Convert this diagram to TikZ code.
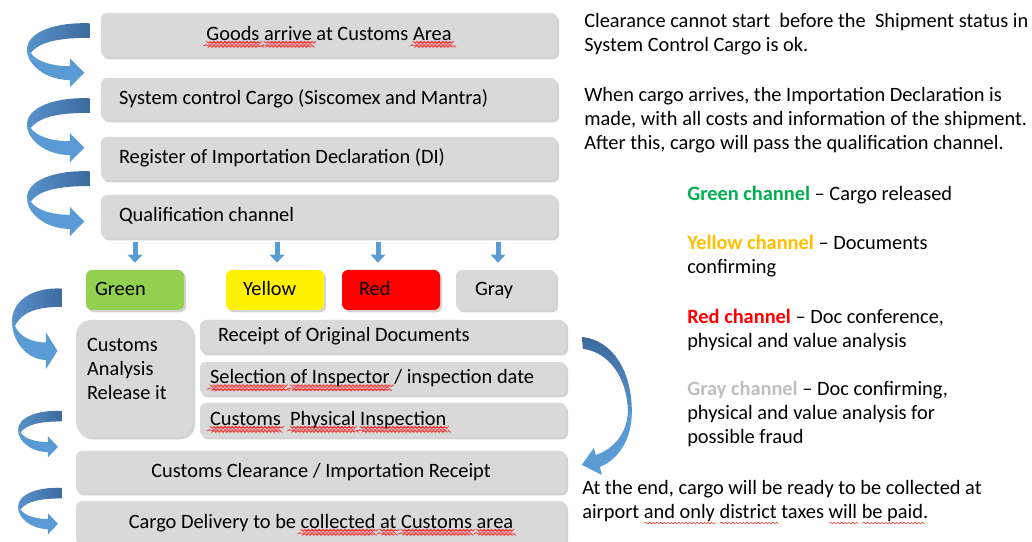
\documentclass[tikz,border=0pt]{standalone}
\usepackage{fontspec}
\setmainfont{Carlito}
\usetikzlibrary{arrows.meta,shadows}

\definecolor{boxgray}{RGB}{217,217,217}
\definecolor{chgreenbox}{RGB}{146,208,80}
\definecolor{chgreen}{RGB}{0,176,80}
\definecolor{chyellow}{RGB}{255,192,0}
\definecolor{chgray}{RGB}{191,191,191}
\definecolor{arrowdark}{RGB}{60,106,158}
\definecolor{arrowmid}{RGB}{88,146,203}
\definecolor{arrowlight}{RGB}{91,155,213}
\definecolor{spellred}{RGB}{235,60,60}

% red zigzag under a word
\makeatletter
\newsavebox\wavybox
\newdimen\wavywd
\newdimen\wavyx
\newcommand\wavy[1]{%
	\sbox\wavybox{#1}\wavywd=\wd\wavybox
	\rlap{\pgfpicture\pgfsetbaseline{0pt}%
		\pgfsetlinewidth{0.4pt}\pgfsetstrokecolor{spellred}%
		\wavyx=0pt \pgfpathmoveto{\pgfqpoint{0pt}{-3pt}}%
		\@tempswatrue
		\loop\advance\wavyx by 1.3pt
			\if@tempswa\pgfpathlineto{\pgfqpoint{\wavyx}{-2.4pt}}\@tempswafalse
			\else\pgfpathlineto{\pgfqpoint{\wavyx}{-3.6pt}}\@tempswatrue\fi
		\ifdim\wavyx<\wavywd\repeat
		\pgfusepath{stroke}\endpgfpicture}%
	\usebox\wavybox}
\makeatother

% twisted ribbon arrow: left x, top y, width, height (in px)
\newcommand\turnarrow[4]{%
	\begin{scope}[x=0.025cm,y=-0.025cm,shift={(#1,#2)},xscale=#3,yscale=#4]
		\shade[left color=arrowmid,right color=arrowdark] (1,0.02) .. controls (0.45,0) and (0,0.15) .. (0,0.42) -- (0.06,0.47) .. controls (0.2,0.3) and (0.5,0.24) .. (1,0.24) -- cycle;
		\fill[arrowlight] (0,0.42) .. controls (0,0.65) and (0.3,0.88) .. (0.68,0.88) -- (0.68,0.99) -- (0.91,0.77) -- (0.68,0.55) -- (0.68,0.67) .. controls (0.4,0.67) and (0.15,0.6) .. (0.06,0.47) -- cycle;
	\end{scope}}

\begin{document}
\begin{tikzpicture}[font=\fontsize{14.5}{17.1}\selectfont,
		boxfill/.style={fill=boxgray, rounded corners=0.15cm, drop shadow={shadow xshift=0.05cm, shadow yshift=-0.06cm, opacity=0.35}},
		stepbox/.style={boxfill, inner ysep=0pt, text height=10.4pt, text depth=3.2pt},
		padded/.style 2 args={inner xsep=#1, text width=#2, execute at begin node={\spaceskip=0pt\xspaceskip=0pt}},
		chanarrow/.style={arrowlight, line width=0.125cm, -{Triangle[width=0.36cm,length=0.2cm]}, shorten <=0.1cm, shorten >=0.175cm},
		sidetext/.style={anchor=north west, align=left, inner sep=0pt}]
	\useasboundingbox (0,0) rectangle (25.8,-13.55);

	\node (goods) at (8.225,-0.875) [stepbox, minimum width=11.4cm, minimum height=1.1cm] {\wavy{Goods} \wavy{arrive} at Customs \wavy{Area}};
	\node (syscargo) at (8.225,-2.475) [stepbox, padded={0.45cm}{10.5cm}, minimum height=1.05cm] {System control Cargo (Siscomex and Mantra)};
	\node (register) at (8.225,-3.9625) [stepbox, padded={0.45cm}{10.5cm}, minimum height=1.075cm] {Register of Importation Declaration (DI)};
	\node (qual) at (8.225,-5.4125) [stepbox, padded={0.45cm}{10.5cm}, minimum height=1.075cm] {Qualification channel};

	\node (green) at (3.375,-7.25) [stepbox, fill=chgreenbox, padded={0.225cm}{2.0cm}, minimum height=1cm] {Green};
	\node (yellow) at (6.875,-7.25) [stepbox, fill=yellow, padded={0.425cm}{1.6cm}, minimum height=1cm] {Yellow};
	\node (red) at (9.775,-7.25) [stepbox, fill=red, padded={0.425cm}{1.6cm}, minimum height=1cm] {Red};
	\node (gray) at (12.65,-7.25) [stepbox, padded={0.475cm}{1.55cm}, minimum height=1cm] {Gray};

	\draw[chanarrow] (qual.south -| green.north) -- (green.north);
	\draw[chanarrow] ([xshift=0.05cm]qual.south -| yellow.north) -- ([xshift=0.05cm]yellow.north);
	\draw[chanarrow] ([xshift=-0.325cm]qual.south -| red.north) -- ([xshift=-0.325cm]red.north);
	\draw[chanarrow] ([xshift=-0.2cm]qual.south -| gray.north) -- ([xshift=-0.2cm]gray.north);

	\node (analysis) at (3.3625,-9.4625) [boxfill, rounded corners=0.375cm, padded={0.275cm}{2.375cm}, inner ysep=0pt, text depth=48pt, minimum height=2.925cm] {Customs\\Analysis\\Release it};
	\node (receipt) at (9.575,-8.4125) [stepbox, padded={0.45cm}{8.25cm}, minimum height=0.825cm] {Receipt of Original Documents};
	\node (selection) at (9.575,-9.4625) [stepbox, padded={0.25cm}{8.65cm}, minimum height=0.825cm] {\wavy{Selection} \wavy{of Inspector} / inspection date};
	\node (physical) at (9.575,-10.5) [stepbox, padded={0.25cm}{8.65cm}, minimum height=0.85cm] {\wavy{Customs}\ \ \wavy{Physical} \wavy{Inspection}};
	\node (clearance) at (8.025,-11.8) [stepbox, minimum width=12.25cm, minimum height=1.05cm] {Customs Clearance / Importation Receipt};
	\node (delivery) at (8.025,-13.075) [stepbox, minimum width=12.25cm, minimum height=1.1cm] {Cargo Delivery to be \wavy{collected} \wavy{at} \wavy{Customs} \wavy{area}};

	\turnarrow{27}{22}{63}{66}
	\turnarrow{27}{97}{63}{66}
	\turnarrow{27}{170}{63}{67}
	\turnarrow{12}{287}{50}{83}
	\turnarrow{18}{410}{44}{48}
	\turnarrow{18}{487}{44}{48}

	\begin{scope}[x=0.025cm,y=-0.025cm]
		\shade[top color=arrowdark, bottom color=arrowmid] (582,337) .. controls (612,340) and (632,370) .. (632,412) -- (628,412) .. controls (628,380) and (610,352) .. (583,349) -- cycle;
		\fill[arrowlight] (632,412) .. controls (632,440) and (618,460) .. (600,467) -- (602,475) -- (582,465) -- (594,448) -- (596,455) .. controls (612,450) and (627,435) .. (628,412) -- cycle;
	\end{scope}

	\node (status) at (14.6,-0.335) [sidetext] {Clearance cannot start\ \ before the\ \ Shipment status in\\System Control Cargo is ok.};
	\node (declaration) at (14.6,-2.185) [sidetext] {When cargo arrives, the Importation Declaration is\\made, with all costs and information of the shipment.\\After this, cargo will pass the qualification channel.};
	\node (greennote) at (17.175,-4.65) [sidetext] {\textbf{\color{chgreen}Green channel} -- Cargo released};
	\node (yellownote) at (17.175,-5.875) [sidetext] {\textbf{\color{chyellow}Yellow channel} -- Documents\\confirming};
	\node (rednote) at (17.175,-7.725) [sidetext] {\textbf{\color{red}Red channel} -- Doc conference,\\physical and value analysis};
	\node (graynote) at (17.175,-9.525) [sidetext] {\textbf{\color{chgray}Gray channel} -- Doc confirming,\\physical and value analysis for\\possible fraud};
	\node (endnote) at (14.55,-12.01) [sidetext] {At the end, cargo will be ready to be collected at\\airport \wavy{and only} \wavy{district} taxes \wavy{will} \wavy{be paid}.};
\end{tikzpicture}
\end{document}
